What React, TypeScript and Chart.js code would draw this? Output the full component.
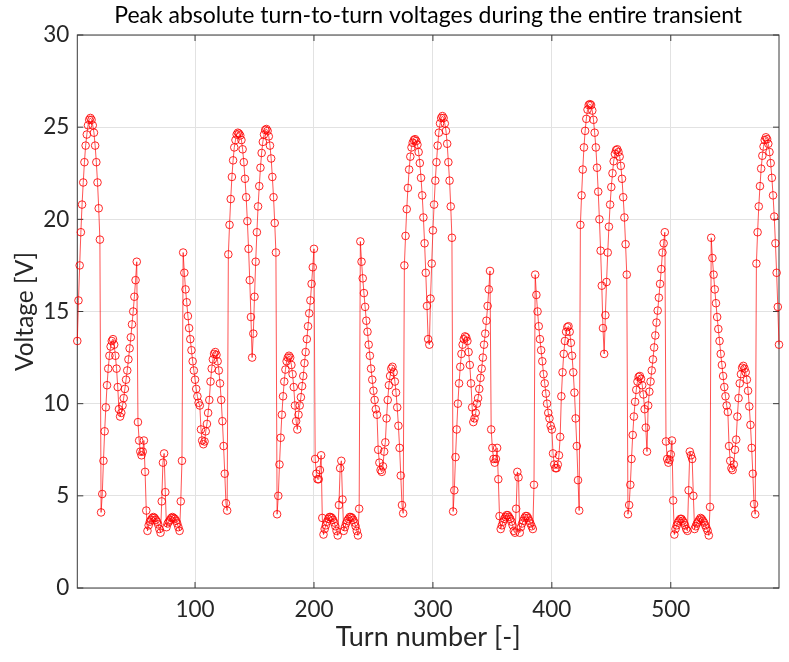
import React, { useEffect, useRef } from "react";
import { Chart, registerables } from "chart.js";

Chart.register(...registerables);

// Peak absolute turn-to-turn voltage [V], read turn by turn from the reference
const peak1 = [13.4, 15.6, 17.5, 19.3, 20.8, 22.0, 23.1, 24.0, 24.6, 25.1, 25.4, 25.5, 25.4, 25.1, 24.7, 24.0, 23.1, 22.0, 20.6, 18.9];
const humpA = [4.1, 5.1, 6.9, 8.5, 9.8, 11.0, 11.9, 12.6, 13.1, 13.4, 13.5, 13.2, 12.6, 11.9, 10.9, 9.7, 9.3, 9.5, 9.9, 10.3, 10.8, 11.3, 11.8, 12.4, 13.0, 13.6, 14.3, 15.0, 15.8, 16.7, 17.7];
const lowA = [9.0, 8.0, 7.4, 7.2, 7.4, 8.0, 6.3, 4.2, 3.1, 3.4, 3.6, 3.7, 3.8, 3.85, 3.8, 3.7, 3.6, 3.45, 3.2, 3.0, 4.7, 6.8, 7.3, 5.2, 3.3, 3.5, 3.6, 3.7, 3.8, 3.85, 3.8, 3.75, 3.65, 3.5, 3.3, 3.1, 4.7, 6.9];
const fallA = [18.2, 17.1, 16.2, 15.5, 14.75, 14.1, 13.5, 12.9, 12.3, 11.8, 11.3, 10.8, 10.4, 10.05, 9.9, 8.6, 8.0, 7.8, 7.95, 8.5, 8.9, 9.5, 10.2, 11.2, 11.9, 12.4, 12.7, 12.8, 12.65, 12.3, 11.8, 11.1, 10.2, 9.05, 7.7, 6.2, 4.6, 4.2];
const peak2 = [18.1, 19.7, 21.1, 22.3, 23.2, 23.9, 24.3, 24.6, 24.7, 24.65, 24.55, 24.3, 23.8, 23.1, 22.2, 21.2, 19.9, 18.4, 16.7, 14.7, 12.5, 13.8, 15.8, 17.7, 19.3, 20.7, 21.8, 22.8, 23.6, 24.2, 24.6, 24.85, 24.9, 24.8, 24.5, 24.0, 23.3, 22.3, 21.2, 19.8, 18.2];
const humpB = [4.0, 5.0, 6.7, 8.15, 9.4, 10.4, 11.2, 11.85, 12.3, 12.5, 12.6, 12.5, 12.1, 11.6, 10.9, 9.9, 9.05, 8.6, 9.4, 9.9, 10.35, 10.95, 11.5, 12.2, 12.8, 13.5, 14.2, 14.9, 15.6, 16.5, 17.4];
const lowB = [18.4, 7.0, 6.2, 5.9, 5.9, 6.4, 7.2, 3.8, 2.9, 3.2, 3.4, 3.6, 3.75, 3.85, 3.85, 3.8, 3.7, 3.55, 3.35, 3.1, 2.85, 4.5, 6.5, 6.9, 4.8, 3.1, 3.3, 3.5, 3.65, 3.75, 3.85, 3.85, 3.8, 3.7, 3.55, 3.35, 3.1, 2.85, 4.3];
const fallB = [18.8, 17.7, 16.8, 16.0, 15.25, 14.5, 13.9, 13.2, 12.6, 11.9, 11.3, 10.7, 10.2, 9.7, 9.4, 7.5, 6.8, 6.4, 6.3, 6.6, 7.4, 7.9, 9.2, 10.2, 11.0, 11.5, 11.9, 12.0, 11.7, 11.2, 10.6, 9.8, 8.8, 7.6, 6.1, 4.5, 4.05];
const peak3 = [17.5, 19.1, 20.55, 21.7, 22.7, 23.4, 23.9, 24.15, 24.3, 24.35, 24.25, 24.05, 23.65, 23.05, 22.25, 21.3, 20.1, 18.7, 17.1, 15.3, 13.5, 13.2, 15.7, 17.6, 19.4, 20.8, 22.1, 23.1, 24.0, 24.7, 25.2, 25.5, 25.6, 25.5, 25.2, 24.8, 24.1, 23.1, 22.1, 20.7, 19.0];
const humpC = [4.15, 5.3, 7.1, 8.6, 10.0, 11.1, 12.0, 12.7, 13.2, 13.5, 13.65, 13.6, 13.4, 12.8, 12.1, 11.1, 9.8, 9.0, 9.2, 9.5, 10.0, 10.3, 10.8, 11.4, 11.9, 12.5, 13.2, 13.8, 14.5, 15.3, 16.2, 17.2];
const lowC = [8.6, 7.6, 7.0, 6.8, 7.0, 7.6, 5.9, 3.9, 3.2, 3.4, 3.6, 3.75, 3.85, 3.95, 3.95, 3.85, 3.75, 3.6, 3.4, 3.1, 3.0, 4.3, 6.3, 6.0, 3.0, 3.3, 3.5, 3.65, 3.8, 3.9, 3.9, 3.8, 3.65, 3.5, 3.35, 3.2, 5.6];
const fallC = [17.0, 15.9, 15.0, 14.2, 13.5, 12.9, 12.3, 11.6, 11.1, 10.55, 10.0, 9.5, 9.2, 8.8, 8.6, 7.3, 6.7, 6.5, 6.5, 6.7, 7.2, 8.2, 10.4, 11.7, 12.7, 13.4, 13.9, 14.15, 14.2, 13.9, 13.3, 12.6, 11.7, 10.6, 9.2, 7.7, 5.85, 4.2];
const peak4 = [19.7, 21.3, 22.7, 23.9, 24.8, 25.45, 25.95, 26.2, 26.25, 26.2, 25.9, 25.4, 24.7, 23.9, 22.8, 21.5, 20.0, 18.3, 16.4, 14.1, 12.7, 14.8, 16.6, 18.2, 19.6, 20.8, 21.75, 22.5, 23.15, 23.55, 23.75, 23.8, 23.65, 23.4, 22.9, 22.2, 21.2, 20.1, 18.65, 17.0];
const humpD = [4.0, 4.5, 5.6, 7.0, 8.3, 9.3, 10.1, 10.75, 11.2, 11.45, 11.5, 11.35, 11.0, 10.5, 9.7, 8.7, 7.4, 9.9, 10.65, 11.2, 11.8, 12.4, 13.05, 13.7, 14.4, 15.05, 15.75, 16.5, 17.3, 18.2, 18.7, 19.3];
const lowD = [7.95, 7.0, 6.8, 6.95, 7.25, 8.0, 4.75, 2.9, 3.2, 3.4, 3.55, 3.65, 3.75, 3.75, 3.65, 3.55, 3.4, 3.2, 3.1, 5.3, 7.4, 7.2, 7.0, 5.0, 3.2, 3.35, 3.5, 3.6, 3.7, 3.8, 3.75, 3.65, 3.55, 3.4, 3.25, 3.1, 2.85, 4.4];
const fallD = [19.0, 17.9, 17.0, 16.2, 15.45, 14.7, 14.05, 13.4, 12.7, 12.1, 11.5, 10.9, 10.4, 9.9, 9.55, 7.7, 6.9, 6.5, 6.4, 6.7, 7.5, 8.05, 9.3, 10.3, 11.1, 11.6, 11.95, 12.05, 11.9, 11.7, 11.3, 10.7, 9.85, 8.85, 7.6, 6.2, 4.55, 4.0];
const peak5 = [17.6, 19.3, 20.7, 21.8, 22.75, 23.45, 23.95, 24.3, 24.45, 24.35, 24.1, 23.65, 23.05, 22.25, 21.3, 20.15, 18.7, 17.1, 15.25, 13.2];

const voltages = [
  ...peak1, ...humpA, ...lowA, ...fallA, ...peak2, ...humpB, ...lowB, ...fallB,
  ...peak3, ...humpC, ...lowC, ...fallC, ...peak4, ...humpD, ...lowD, ...fallD, ...peak5,
];
const turns = voltages.map((_, i) => i + 1);

const xTicks = [100, 200, 300, 400, 500];
const yTicks = [0, 5, 10, 15, 20, 25, 30];

const TITLE = "Peak absolute turn-to-turn voltages during the entire transient";
const X_TITLE = "Turn number [-]";
const Y_TITLE = "Voltage [V]";
const FONT = "Lato, 'Open Sans', sans-serif";

export default function App() {
  const ref = useRef<HTMLCanvasElement | null>(null);

  useEffect(() => {
    if (!ref.current) return;

    const boxPlugin = {
      id: "matlabBox",
      beforeDatasetsDraw(chart: any) {
        const { ctx, chartArea: a, scales } = chart;
        ctx.save();
        ctx.strokeStyle = "#3a3a3a";
        ctx.lineWidth = 1;
        ctx.strokeRect(a.left, a.top, a.right - a.left, a.bottom - a.top);
        const L = 6;
        ctx.beginPath();
        for (const v of xTicks) {
          const x = scales.x.getPixelForValue(v);
          ctx.moveTo(x, a.bottom);
          ctx.lineTo(x, a.bottom - L);
          ctx.moveTo(x, a.top);
          ctx.lineTo(x, a.top + L);
        }
        for (const v of yTicks) {
          const y = scales.y.getPixelForValue(v);
          ctx.moveTo(a.left, y);
          ctx.lineTo(a.left + L, y);
          ctx.moveTo(a.right, y);
          ctx.lineTo(a.right - L, y);
        }
        ctx.stroke();
        ctx.restore();
      },
      afterDraw(chart: any) {
        const { ctx, chartArea: a } = chart;
        ctx.save();
        ctx.fillStyle = "#000000";
        ctx.font = `23px ${FONT}`;
        ctx.textAlign = "center";
        ctx.textBaseline = "alphabetic";
        ctx.fillText(TITLE, (a.left + a.right) / 2, 23);
        ctx.restore();
      },
    };

    const chart = new Chart(ref.current, {
      type: "line",
      data: {
        datasets: [
          {
            label: "Peak voltage",
            data: turns.map((t, i) => ({ x: t, y: voltages[i] })),
            borderColor: "rgba(255,0,0,0.75)",
            borderWidth: 0.9,
            pointStyle: "circle",
            pointRadius: 3.8,
            pointBorderWidth: 1,
            pointBackgroundColor: "rgba(0,0,0,0)",
            pointBorderColor: "rgba(255,0,0,0.85)",
            tension: 0,
            clip: false as any,
          },
        ],
      },
      plugins: [boxPlugin],
      options: {
        responsive: false,
        animation: false,
        events: [],
        layout: { padding: { top: 35, right: 10, bottom: 0, left: 0 } },
        plugins: {
          legend: { display: false },
          tooltip: { enabled: false },
          title: { display: false },
        },
        scales: {
          x: {
            type: "linear",
            min: 1,
            max: voltages.length,
            afterBuildTicks: (scale: any) => {
              scale.ticks = xTicks.map((v) => ({ value: v }));
            },
            afterFit: (scale: any) => {
              scale.height = 74;
            },
            grid: { color: "#e2e2e2", lineWidth: 1, drawTicks: false },
            border: { display: false },
            ticks: {
              padding: 8,
              color: "#262626",
              font: { family: FONT, size: 22.5 },
              maxRotation: 0,
            },
            title: {
              display: true,
              text: X_TITLE,
              color: "#262626",
              font: { family: FONT, size: 27 },
              padding: { top: 0, bottom: 9 },
            },
          },
          y: {
            type: "linear",
            min: 0,
            max: 30,
            afterBuildTicks: (scale: any) => {
              scale.ticks = yTicks.map((v) => ({ value: v }));
            },
            afterFit: (scale: any) => {
              scale.width = 77.3;
            },
            grid: { color: "#e2e2e2", lineWidth: 1, drawTicks: false },
            border: { display: false },
            ticks: {
              padding: 8,
              color: "#262626",
              font: { family: FONT, size: 22.5 },
            },
            title: {
              display: true,
              text: Y_TITLE,
              color: "#262626",
              font: { family: FONT, size: 24.5 },
              padding: { top: 10, bottom: 0 },
            },
          },
        },
      },
    });

    return () => chart.destroy();
  }, []);

  return (
    <div style={{ position: "absolute", left: 0, top: 0, width: 789, height: 662, background: "#ffffff" }}>
      <canvas ref={ref} width={789} height={662} style={{ display: "block", width: 789, height: 662 }} />
    </div>
  );
}
